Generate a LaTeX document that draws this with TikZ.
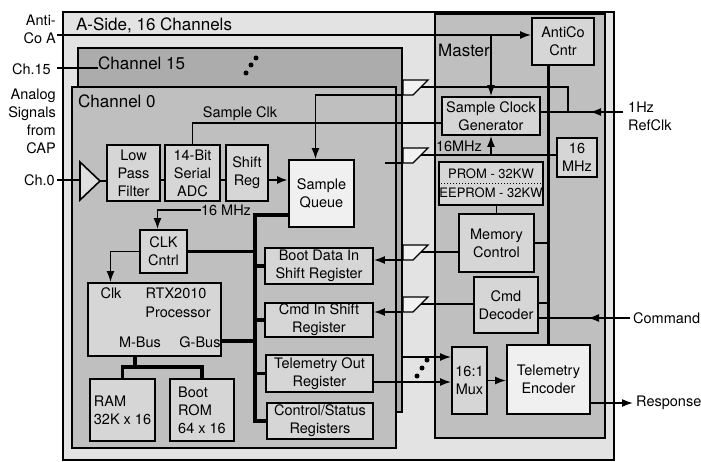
\documentclass[tikz,border=0pt]{standalone}
\usepackage{fontspec}
\setmainfont{TeX Gyre Heros}
\usetikzlibrary{arrows.meta}

\newcommand\boxfont{\fontsize{14.5}{18}\selectfont}
\newcommand\titlefont{\fontsize{17}{20}\selectfont}

\tikzset{
  frame/.style={draw, line width=1.4pt},
  blk/.style={draw, line width=1.8pt, fill=gray!32, inner sep=0pt,
              align=center, font=\boxfont},
  lite/.style={blk, fill=gray!12},
  lbl/.style={inner sep=0pt, font=\boxfont},
  ttl/.style={inner sep=0pt, anchor=west, font=\titlefont},
  sig/.style={line width=1.6pt},
  bus/.style={line width=3.2pt},
  arr/.style={sig, -{Latex[length=11pt,width=8pt]}},
  tap/.style={draw, line width=1.3pt, fill=gray!10},
  dot/.style={fill, circle, inner sep=0pt, minimum size=5pt},
}

\begin{document}
\begin{tikzpicture}[x=1pt, y=-1pt]
  \useasboundingbox (0,0) rectangle (701,462);

  % frames
  \draw[frame, fill=gray!22] (63,12) rectangle (614,460);
  \draw[frame, fill=gray!65] (78,48) rectangle (402,412);
  \draw[frame, fill=gray!50] (72,87) rectangle (396,448);
  \draw[frame, fill=gray!50] (435,14) rectangle (605,438);

  \node[ttl] (aside) at (76,25) {A-Side, 16 Channels};
  \node[ttl] (ch15) at (98,63) {Channel 15};
  \node[ttl] (ch0) at (78,101) {Channel 0};
  \node[ttl] (mst) at (438,50) {Master};
  \foreach \p [count=\i] in {(256,58),(251,65),(246,73)}
    \node[dot] (cdot\i) at \p {};

  % master
  \node[blk, minimum width=62pt, minimum height=47pt] (anticnt) at (563,41.5) {AntiCo\\Cntr};
  \node[blk, minimum width=98pt, minimum height=38pt] (sclk) at (491,116) {Sample Clock\\Generator};
  \node[blk, minimum width=40pt, minimum height=39pt] (mhz) at (577,157.5) {16\\MHz};
  \node[blk, minimum width=104pt, minimum height=43pt, font=\fontsize{13}{16}\selectfont] (prom) at (491,183.5) {PROM - 32KW\\[3pt]EEPROM - 32KW};
  \node[blk, minimum width=75pt, minimum height=58pt] (memctl) at (496.5,243) {Memory\\Control};
  \node[blk, minimum width=64pt, minimum height=56pt] (cmddec) at (506,305) {Cmd\\Decoder};
  \node[blk, minimum width=35pt, minimum height=67pt] (mux) at (469.5,380.5) {16:1\\Mux};
  \node[lite, minimum width=83pt, minimum height=69pt] (telenc) at (548.5,379.5) {Telemetry\\Encoder};
  \draw[dotted, line width=1pt] (prom.west) -- (prom.east);

  % channel 0
  \node[blk, minimum width=53pt, minimum height=56pt] (lpf) at (133.5,173) {Low\\Pass\\Filter};
  \node[blk, minimum width=55pt, minimum height=56pt] (adc) at (192.5,173) {14-Bit\\Serial\\ADC};
  \node[blk, minimum width=42pt, minimum height=56pt] (shreg) at (247,173) {Shift\\Reg};
  \node[lite, minimum width=65pt, minimum height=67pt] (squeue) at (321.5,193.5) {Sample\\Queue};
  \node[blk, minimum width=47pt, minimum height=43pt] (clkctl) at (163.5,251.5) {CLK\\Cntrl};
  \node[blk, minimum width=133pt, minimum height=73pt] (rtx) at (154.5,319.5) {};
  \node[lbl] (rtxclk) at (111,293) {Clk};
  \node[lbl] (rtxname) at (176,293) {RTX2010};
  \node[lbl] (rtxproc) at (178,312) {Processor};
  \node[lbl] (mbusl) at (140,342) {M-Bus};
  \node[lbl] (gbusl) at (200,342) {G-Bus};
  \node[blk, minimum width=108pt, minimum height=36pt] (bootin) at (319,266) {Boot Data In\\Shift Register};
  \node[blk, minimum width=108pt, minimum height=34pt] (cmdin) at (319,320) {Cmd In Shift\\Register};
  \node[blk, minimum width=107pt, minimum height=37pt] (telout) at (319.5,373.5) {Telemetry Out\\Register};
  \node[blk, minimum width=106pt, minimum height=36pt] (ctlstat) at (320,421) {Control/Status\\Registers};
  \node[blk, minimum width=65pt, minimum height=62pt, align=left] (ram) at (122.5,410) {RAM\\32K x 16};
  \node[blk, minimum width=64pt, minimum height=62pt, align=left] (bootrom) at (202,410) {Boot\\ROM\\64 x 16};

  % bus taps between channels and master
  \foreach \n/\yt in {a/80, b/148, c/245, d/297} {
    \draw[tap] (403,\yt) -- (428,\yt) -- (413,\yt+15) -- (403,\yt+15) -- cycle;
    \coordinate (tap\n-in) at (421,\yt+7);
    \coordinate (tap\n-out) at (403,\yt+15);
  }

  % outside labels
  \node[lbl, anchor=east, align=right] (acl) at (56,29) {Anti-\\Co A};
  \node[lbl, anchor=east] (ch15l) at (51,69) {Ch.15};
  \node[lbl, anchor=east, align=right] (capl) at (56,121) {Analog\\Signals\\from\\CAP};
  \node[lbl, anchor=east] (ch0l) at (55,180) {Ch.0};
  \node[lbl, anchor=west, align=left] (refl) at (628,116) {1Hz\\RefClk};
  \node[lbl, anchor=west] (cmdl) at (633,318) {Command};
  \node[lbl, anchor=west] (rspl) at (636,403) {Response};
  \node[lbl] (sclkl) at (240,114) {Sample Clk};
  \node[lbl] (mhzm) at (459,146) {16MHz};
  \node[lbl] (mhzc) at (226,210) {16 MHz};

  % anti-co and clocks
  \coordinate (acin) at (57,35);
  \coordinate (ch15in) at (57,68);
  \draw[arr] (acin) -- (acin -| anticnt.west);
  \draw[arr] (acin -| sclk.north) -- (sclk.north);
  \draw[sig] (ch15in) -- (ch15in -| ch15.west);
  \draw[bus] (anticnt.south -| telenc.north) -- (telenc.north);
  \coordinate (refin) at (623,112);
  \coordinate (refup) at (568,112);
  \draw[sig] (refin) -- (refin -| sclk.east);
  \draw[arr] (refin) -- ++(-33,0);
  \draw[sig] (refup) |- (tapa-in);
  \draw[arr] (tapa-out) -| ([xshift=-6pt]squeue.north);
  \draw[sig] ([yshift=-7pt]sclk.west) -| (adc.north);
  \draw[sig] (mhz.west |- tapb-in) -- (tapb-in);
  \draw[arr] (tapb-in -| sclk.south) -- (sclk.south);
  \draw[sig] (tapb-out) -- ++(-18,0);
  \draw[arr] (mhzc.west) -| ([xshift=-6pt]clkctl.north);
  \draw[arr] (clkctl.west) -| ([xshift=-44pt]rtx.north);

  % master internals
  \draw[sig] (memctl.north |- prom.south) -- (memctl.north);
  \draw[sig] (memctl.east) -- (memctl.east -| telenc.north);
  \draw[sig] ([yshift=2pt]cmddec.east) -- ([yshift=2pt]cmddec.east -| telenc.north);
  \draw[sig] (tapc-in -| memctl.west) -- (tapc-in);
  \draw[arr] (tapc-out) -- (tapc-out -| bootin.east);
  \draw[sig] (tapd-in -| cmddec.west) -- (tapd-in);
  \draw[arr] (tapd-out) -- (tapd-out -| cmdin.east);
  \coordinate (cmdpt) at (630,318);
  \draw[sig] (cmdpt) -- (cmdpt -| cmddec.east);
  \draw[arr] (cmdpt) -- ++(-42,0);

  % G-bus
  \coordinate (gtop) at (255,215);
  \draw[bus] (squeue.west |- gtop) -- (gtop) -- (gtop |- ctlstat.west) -- (ctlstat.west);
  \foreach \b in {bootin, cmdin, telout}
    \draw[bus] (\b.west) -- (\b.west -| gtop);
  \draw[bus] (clkctl.east) -- (clkctl.east -| gtop);
  \draw[bus] ([yshift=-21.5pt]rtx.east) -- ([yshift=-21.5pt]rtx.east -| gtop);

  % M-bus
  \coordinate (mbus) at (135,367);
  \draw[bus] (rtx.south -| mbus) -- (mbus);
  \draw[bus] (ram.north) -- (ram.north |- mbus) -- (bootrom.north |- mbus) -- (bootrom.north);

  % front end
  \coordinate (ch0in) at (57,180);
  \coordinate (amptip) at (100,181);
  \draw[sig, fill=gray!25] (80,162) -- (amptip) -- (80,200) -- cycle;
  \draw[sig] (ch0in) -- (80,180);
  \draw[sig] (amptip) -- (amptip -| lpf.west);
  \coordinate (sigy) at (0,180);
  \draw[sig] (lpf.east |- sigy) -- (adc.west |- sigy);
  \draw[sig] (adc.east |- sigy) -- (shreg.west |- sigy);
  \draw[arr, line width=2.6pt] (shreg.east |- sigy) -- (squeue.west |- sigy);

  % telemetry path
  \coordinate (chx) at (403,357);
  \draw[arr] (chx) -- (chx -| mux.west);
  \draw[arr] ([yshift=-8.5pt]telout.east) -- ([yshift=-8.5pt]telout.east -| mux.west);
  \foreach \p [count=\i] in {(427,360),(422,368),(417,376)}
    \node[dot] (mdot\i) at \p {};
  \draw[arr] (mux.east) -- (mux.east -| telenc.west);
  \coordinate (rspout) at (633,403);
  \draw[arr] (telenc.east |- rspout) -- (rspout);
\end{tikzpicture}
\end{document}
